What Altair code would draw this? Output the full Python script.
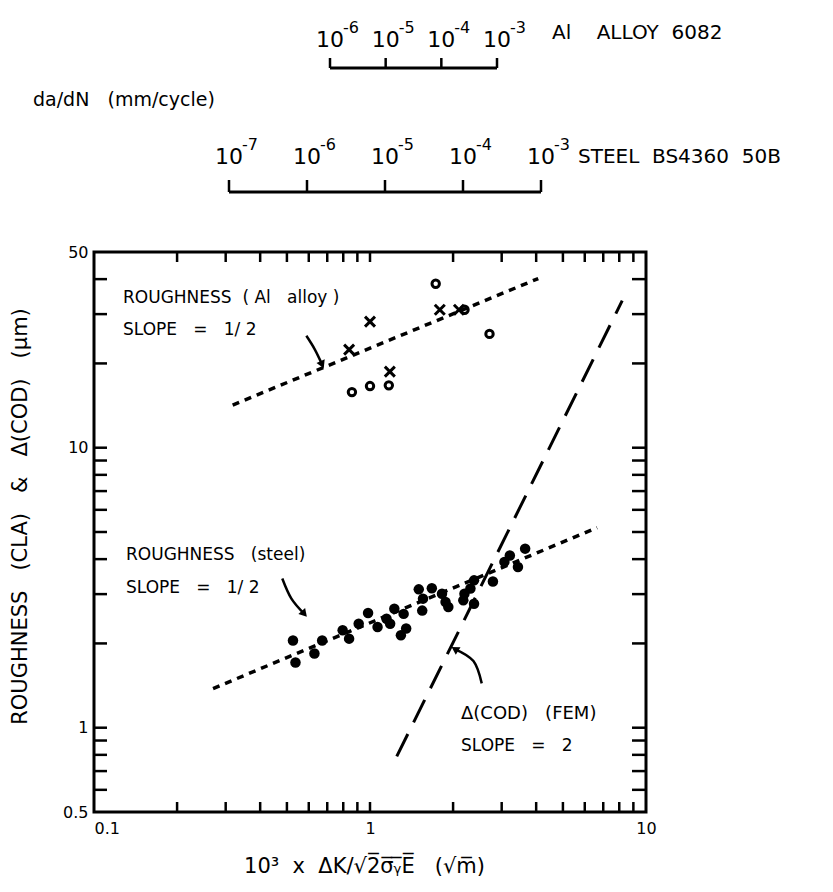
import math
import altair as alt
import pandas as pd

# ---------------- data ----------------
# steel roughness (filled dots)
steel_x = [0.526, 0.537, 0.629, 0.671, 0.796, 0.840, 0.910, 0.984, 1.065, 1.148,
           1.183, 1.225, 1.324, 1.294, 1.352, 1.502, 1.556, 1.546, 1.675, 1.823,
           1.878, 1.922, 2.199, 2.178, 2.382, 2.311, 2.382, 2.788, 3.069, 3.211,
           3.436, 3.648]
steel_y = [2.05, 1.71, 1.84, 2.05, 2.23, 2.08, 2.35, 2.57, 2.29, 2.45,
           2.35, 2.66, 2.55, 2.14, 2.26, 3.12, 2.89, 2.62, 3.15, 3.01,
           2.81, 2.70, 3.01, 2.85, 3.36, 3.14, 2.77, 3.33, 3.91, 4.12,
           3.75, 4.36]
# Al alloy roughness, open circles
al_o_x = [0.86, 1.00, 1.17, 1.73, 2.20, 2.71]
al_o_y = [15.8, 16.6, 16.7, 38.5, 31.1, 25.5]
# Al alloy roughness, crosses
al_x_x = [0.84, 1.00, 1.18, 1.79, 2.10]
al_x_y = [22.4, 28.2, 18.7, 31.1, 31.1]
# fitted lines
al_fit_x = [0.318, 4.07]
al_fit_y = [14.2, 40.2]
steel_fit_x = [0.270, 6.65]
steel_fit_y = [1.38, 5.18]
fem_x = [1.25, 8.2]
fem_y = [0.79, 33.5]

# axes
x_label_vals = [0.1, 1, 10]
y_label_vals = [0.5, 1, 10, 50]
x_tick_vals = [0.2, 0.3, 0.4, 0.5, 0.6, 0.7, 0.8, 0.9, 1, 2, 3, 4, 5, 6, 7, 8, 9]
y_tick_vals = [0.6, 0.7, 0.8, 0.9, 1, 2, 3, 4, 5, 6, 7, 8, 9, 10, 20, 30, 40]

# da/dN scales
al_dadn = [1e-6, 1e-5, 1e-4, 1e-3]
al_dadn_exp = ["-6", "-5", "-4", "-3"]
steel_dadn = [1e-7, 1e-6, 1e-5, 1e-4, 1e-3]
steel_dadn_exp = ["-7", "-6", "-5", "-4", "-3"]

# annotation arrows (data coordinates)
arrow_id = ["al", "al", "al", "st", "st", "st", "fem", "fem", "fem"]
arrow_ord = [0, 1, 2, 0, 1, 2, 0, 1, 2]
arrow_x = [0.588, 0.630, 0.671, 0.481, 0.519, 0.578, 2.54, 2.37, 2.03]
arrow_y = [25.1, 22.5, 19.8, 3.41, 2.89, 2.55, 1.44, 1.73, 1.91]
head_x = [0.671, 0.578, 2.03]
head_y = [19.8, 2.55, 1.91]
head_ang = [156, 139, 302]

FONT = "DejaVu Sans"
NB = "\u00a0"
W, H = 552, 560

xs = alt.Scale(type="log", domain=[0.1, 10], nice=False)
ys = alt.Scale(type="log", domain=[0.5, 50], nice=False)

x_title = "10³" + NB + " x" + NB + " ΔK/√2̅σ̅ᵧ̅E̅" + NB + NB + " (√m̅)"
y_title = ("ROUGHNESS" + NB + NB + " (CLA)" + NB + NB + " &" + NB + NB + " Δ(COD)"
           + NB + NB + " (μm)")

x_axis = alt.Axis(values=x_label_vals, format="~g", ticks=False, domain=False, grid=False,
                  labelFontSize=16, labelPadding=8, labelFlush=False, labelColor="black",
                  labelFont=FONT,
                  labelAlign={"condition": {"test": "datum.value < 0.5", "value": "left"},
                              "value": "center"},
                  title=x_title, titleFontSize=21, titleFontWeight="normal",
                  titleFont=FONT, titleColor="black", titleX=270, titleY=54,
                  titleBaseline="middle", titleAlign="center")
y_axis = alt.Axis(values=y_label_vals, format="~g", ticks=False, domain=False, grid=False,
                  labelFontSize=16, labelPadding=6, labelFlush=False, labelColor="black",
                  labelFont=FONT,
                  title=y_title, titleFontSize=21,
                  titleFontWeight="normal", titleFont=FONT, titleColor="black",
                  titleX=-74, titleY=264, titleAngle=270, titleBaseline="middle",
                  titleAlign="center")


def X(field):
    return alt.X(field, scale=xs, axis=x_axis)


def Y(field):
    return alt.Y(field, scale=ys, axis=y_axis)


dfx = pd.DataFrame({"v": x_tick_vals})
dfy = pd.DataFrame({"v": y_tick_vals})

tick_b = alt.Chart(dfx).mark_rule(strokeWidth=2.5, color="black").encode(
    x=X("v:Q"), y=alt.value(H), y2=alt.value(H - 10))
tick_t = alt.Chart(dfx).mark_rule(strokeWidth=2.5, color="black").encode(
    x=X("v:Q"), y=alt.value(0), y2=alt.value(10))
tick_l = alt.Chart(dfy).mark_rule(strokeWidth=2.5, color="black").encode(
    y=Y("v:Q"), x=alt.value(0), x2=alt.value(13))
tick_r = alt.Chart(dfy).mark_rule(strokeWidth=2.5, color="black").encode(
    y=Y("v:Q"), x=alt.value(W), x2=alt.value(W - 14))


def line_layer(xv, yv, dash, width):
    df = pd.DataFrame({"x": xv, "y": yv})
    return alt.Chart(df).mark_line(strokeDash=dash, strokeWidth=width, color="black").encode(
        x=X("x:Q"), y=Y("y:Q"))


al_line = line_layer(al_fit_x, al_fit_y, [7, 6], 3.5)
st_line = line_layer(steel_fit_x, steel_fit_y, [7, 6], 3.5)
fem_line = line_layer(fem_x, fem_y, [25, 13], 3)

steel_pts = alt.Chart(pd.DataFrame({"x": steel_x, "y": steel_y})).mark_circle(
    size=110, color="black", opacity=1).encode(x=X("x:Q"), y=Y("y:Q"))
al_o = alt.Chart(pd.DataFrame({"x": al_o_x, "y": al_o_y})).mark_point(
    shape="circle", filled=False, strokeWidth=3, size=55, color="black", opacity=1).encode(
    x=X("x:Q"), y=Y("y:Q"))
al_x = alt.Chart(pd.DataFrame({"x": al_x_x, "y": al_x_y})).mark_point(
    shape="M-1,-1L1,1M-1,1L1,-1", filled=False, strokeWidth=3, size=100,
    color="black", opacity=1).encode(x=X("x:Q"), y=Y("y:Q"))

arrows = alt.Chart(pd.DataFrame({"id": arrow_id, "o": arrow_ord, "x": arrow_x, "y": arrow_y})).mark_line(
    strokeWidth=2.5, color="black", interpolate="natural").encode(
    x=X("x:Q"), y=Y("y:Q"), detail="id:N", order="o:Q")
heads = alt.Chart(pd.DataFrame({"x": head_x, "y": head_y, "a": head_ang})).mark_point(
    shape="triangle-up", filled=True, size=80, color="black", opacity=1).encode(
    x=X("x:Q"), y=Y("y:Q"), angle=alt.Angle("a:Q", scale=None))


def text_layer(txt, px, py, size):
    return alt.Chart(pd.DataFrame({"t": [txt]})).mark_text(
        align="left", baseline="middle", font=FONT, color="black", fontSize=size).encode(
        text="t:N", x=alt.value(px), y=alt.value(py))


texts = [
    text_layer("ROUGHNESS" + NB + " ( Al" + NB + NB + " alloy )", 29, 46, 17),
    text_layer("SLOPE" + NB + NB + " =" + NB + NB + " 1/ 2", 29, 78, 17),
    text_layer("ROUGHNESS" + NB + NB + " (steel)", 32, 303, 17),
    text_layer("SLOPE" + NB + NB + " =" + NB + NB + " 1/ 2", 32, 336, 17),
    text_layer("Δ(COD)" + NB + NB + " (FEM)", 367, 462, 18),
    text_layer("SLOPE" + NB + NB + " =" + NB + NB + " 2", 367, 494, 17),
    text_layer("da/dN" + NB + NB + " (mm/cycle)", -61, -152, 19),
    text_layer("Al" + NB + NB + NB + " ALLOY" + NB + " 6082", 458, -219, 20),
    text_layer("STEEL" + NB + " BS4360" + NB + " 50B", 484, -95, 20),
]


def dadn_layers(vals, exps, x0, x1, ybar, tick, base10, baseexp):
    lo = math.log10(vals[0])
    span = math.log10(vals[-1]) - lo
    df = pd.DataFrame({"v": vals, "e": exps})
    base = alt.Chart(df).transform_calculate(
        px=f"{x0} + (log(datum.v)/LN10 - ({lo})) * {(x1 - x0) / span}")
    PX = alt.X("px:Q", scale=None)
    bar = base.mark_line(strokeWidth=3, color="black").encode(x=PX, y=alt.value(ybar))
    ticks = base.mark_rule(strokeWidth=2.5, color="black").encode(
        x=PX, y=alt.value(ybar), y2=alt.value(ybar - tick))
    tens = base.mark_text(text="10", fontSize=22, align="center", baseline="alphabetic",
                          font=FONT, color="black").encode(x=PX, y=alt.value(base10))
    sup = base.mark_text(fontSize=16, align="left", baseline="alphabetic", dx=13,
                         font=FONT, color="black").encode(
        x=PX, y=alt.value(baseexp), text="e:N")
    return [bar, ticks, tens, sup]


al_scale = dadn_layers(al_dadn, al_dadn_exp, 236, 403, -184, 10, -205, -219)
st_scale = dadn_layers(steel_dadn, steel_dadn_exp, 135, 447, -60, 12, -88, -102)

chart = alt.layer(tick_b, tick_t, tick_l, tick_r, al_line, st_line, fem_line,
                  steel_pts, al_o, al_x, arrows, heads, *texts, *al_scale, *st_scale).properties(
    width=W, height=H,
    autosize=alt.AutoSizeParams(type="none"),
    padding={"left": 86, "top": 244, "right": 179, "bottom": 72},
).configure(font=FONT, background="white").configure_view(stroke="black", strokeWidth=3)

chart.save("out.html", embed_options={"renderer": "svg", "actions": False})
